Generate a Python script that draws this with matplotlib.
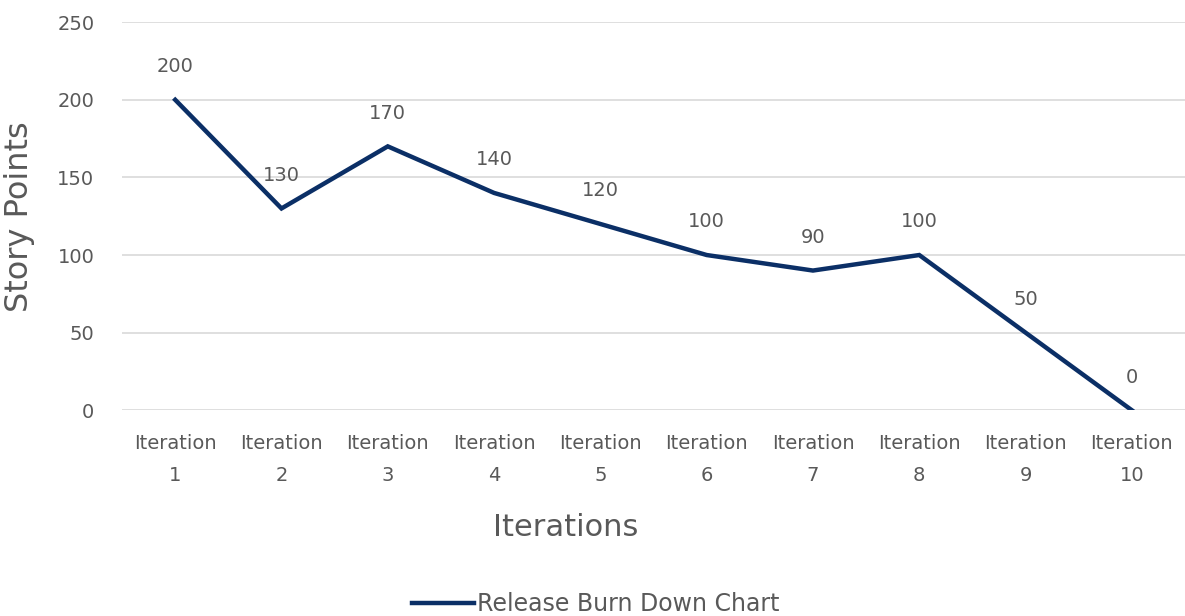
import matplotlib.pyplot as plt

iterations = ['Iteration\n1', 'Iteration\n2', 'Iteration\n3', 'Iteration\n4', 'Iteration\n5',
              'Iteration\n6', 'Iteration\n7', 'Iteration\n8', 'Iteration\n9', 'Iteration\n10']
story_points = [200, 130, 170, 140, 120, 100, 90, 100, 50, 0]
y_ticks = [0, 50, 100, 150, 200, 250]

grey = '#595959'
navy = '#0b2f66'

plt.rcParams['font.family'] = ['DejaVu Sans']

fig = plt.figure(figsize=(11.85, 6.16), dpi=100)
ax = fig.add_axes([0.103, 0.334, 0.897, 0.630])

x = list(range(1, len(story_points) + 1))
ax.plot(x, story_points, color=navy, lw=3.2, label='Release Burn Down Chart', solid_joinstyle='miter')

for xi, v in zip(x, story_points):
    ax.annotate(str(v), (xi, v), xytext=(0, 17), textcoords='offset points',
                ha='center', va='bottom', fontsize=14, color=grey)

ax.set_xlim(0.5, 10.5)
ax.set_ylim(0, 250)
ax.set_yticks(y_ticks)
ax.set_xticks(x)
ax.set_xticklabels(iterations, linespacing=1.9)
ax.tick_params(axis='both', length=0, labelsize=14, colors=grey)
ax.tick_params(axis='x', pad=17)
ax.tick_params(axis='y', pad=20)
ax.grid(axis='y', color='#d9d9d9', lw=1.2)
ax.set_axisbelow(True)
for s in ax.spines.values():
    s.set_visible(False)

ax.set_ylabel('Story Points', fontsize=23, color=grey, labelpad=16)
ax.set_xlabel('Iterations', fontsize=22, color=grey, labelpad=16)
ax.xaxis.set_label_coords(0.417, -0.265)

fig.legend(loc='lower center', bbox_to_anchor=(0.503, -0.035), frameon=False,
           fontsize=17, labelcolor=grey, handlelength=2.6, handletextpad=0.15)

fig.savefig('out.png', dpi=100)
